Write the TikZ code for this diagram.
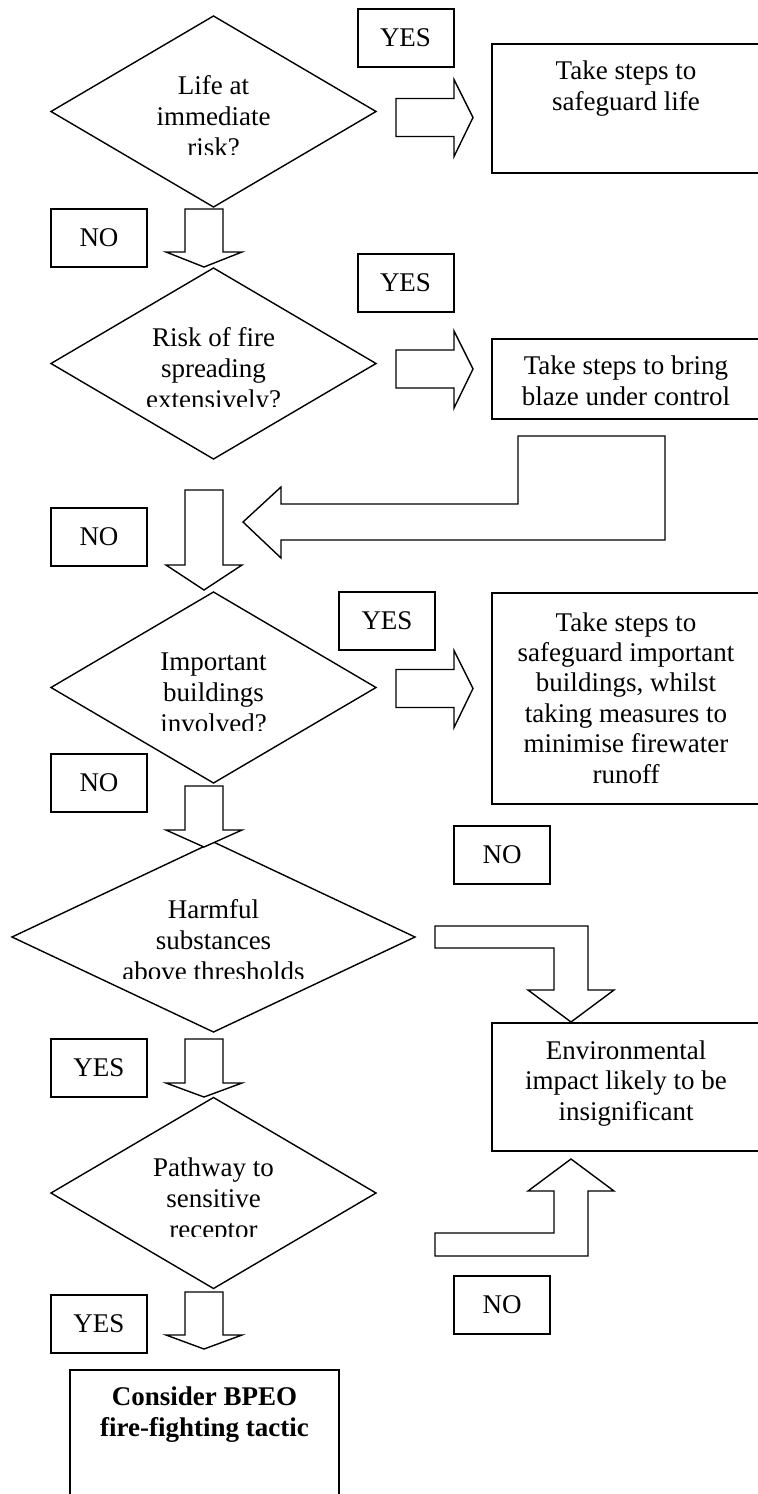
\documentclass[tikz,border=0pt]{standalone}
\usepackage{fontspec}
\setmainfont{Liberation Serif}
\usetikzlibrary{shapes.geometric}
\newcommand{\RArr}[1]{%
  \draw[blk] (396,#1-19) -- (454,#1-19) -- (454,#1-38) -- (473,#1) -- (454,#1+39) -- (454,#1+19) -- (396,#1+19) -- cycle;}
\newcommand{\DArr}[3]{%
  \draw[blk] (185,#1) -- (223,#1) -- (223,#2) -- (242,#2) -- (204,#3) -- (166,#2) -- (185,#2) -- cycle;}
\tikzset{
  blk/.style={draw=black, line width=0.7pt, line join=miter, fill=white},
  dia/.style={draw=black, line width=0.7pt, shape=diamond, inner sep=0pt, outer sep=0pt},
  lbox/.style={draw=black, line width=1pt, minimum width=48pt, minimum height=29pt, inner sep=0pt,
    font=\fontsize{13.5}{15.5}\selectfont},
  bigbox/.style={draw=black, line width=1pt, inner sep=0pt},
  txt/.style={align=center, inner sep=0pt, anchor=base, font=\fontsize{13.5}{15.5}\selectfont},
  btxt/.style={align=center, inner sep=0pt, anchor=base, font=\fontsize{13.5}{15.2}\selectfont},
}
\begin{document}
\begin{tikzpicture}[x=0.5pt, y=-0.5pt]
\useasboundingbox (0,0) rectangle (757,1494);
% ---- decisions
\node[dia, minimum width=162.5pt, minimum height=95.5pt] (d1) at (213.5,111.5) {};
\node[dia, minimum width=162.5pt, minimum height=95.5pt] (d2) at (213.5,363.5) {};
\node[dia, minimum width=162.5pt, minimum height=95.5pt] (d3) at (213.5,687.5) {};
\node[dia, minimum width=201.5pt, minimum height=95pt] (d4) at (213.5,937) {};
\node[dia, minimum width=162.5pt, minimum height=95.5pt] (d5) at (213.5,1193) {};
\begin{scope}
\clip (100,30) rectangle (330,154);
\node[txt] (t1) at (213.5,156) {Life at\\immediate\\risk?};
\end{scope}
\begin{scope}
\clip (100,280) rectangle (330,406);
\node[txt] (t2) at (213.5,408) {Risk of fire\\spreading\\extensively?};
\end{scope}
\begin{scope}
\clip (100,600) rectangle (330,730);
\node[txt] (t3) at (213.5,732) {Important\\buildings\\involved?};
\end{scope}
\begin{scope}
\clip (60,860) rectangle (370,978.5);
\node[txt] (t4) at (213.5,980.5) {Harmful\\substances\\above thresholds};
\end{scope}
\begin{scope}
\clip (100,1110) rectangle (330,1236.5);
\node[txt] (t5) at (213.5,1238.5) {Pathway to\\sensitive\\receptor};
\end{scope}
% ---- YES / NO labels
\node[lbox] (yes1) at (405.5,37.5) {YES};
\node[lbox] (no1) at (99,238) {NO};
\node[lbox] (yes2) at (405.5,283) {YES};
\node[lbox] (no2) at (99,537) {NO};
\node[lbox] (yes3) at (387,620.5) {YES};
\node[lbox] (no3) at (99,782.5) {NO};
\node[lbox] (no4) at (502,854.5) {NO};
\node[lbox] (yes4) at (99,1068) {YES};
\node[lbox] (no5) at (502,1305) {NO};
\node[lbox] (yes5) at (99,1324) {YES};
% ---- action boxes
\node[bigbox, minimum width=134pt, minimum height=64.5pt] (r1) at (626,108.5) {};
\node[btxt] (a1) at (626,110) {Take steps to\\safeguard life};
\node[bigbox, minimum width=134pt, minimum height=40pt] (r2) at (626,379) {};
\node[btxt] (a2) at (626,405) {Take steps to bring\\blaze under control};
\node[bigbox, minimum width=134pt, minimum height=105.5pt] (r3) at (626,698.5) {};
\node[btxt] (a3) at (626,783) {Take steps to\\safeguard important\\buildings, whilst\\taking measures to\\minimise firewater\\runoff};
\node[bigbox, minimum width=134pt, minimum height=64pt] (r4) at (626,1087) {};
\node[btxt] (a4) at (626,1120) {Environmental\\impact likely to be\\insignificant};
\node[bigbox, minimum width=134.5pt, minimum height=75pt] (r5) at (204.5,1445) {};
\node[btxt, font=\fontsize{13.5}{15.2}\selectfont\bfseries] (a5) at (204.5,1436) {Consider BPEO\\fire-fighting tactic};
% ---- block arrows
\RArr{117.5}
\RArr{369}
\RArr{688.5}
\DArr{209}{252}{267}
\DArr{490}{565}{590}
\DArr{786}{830}{847}
\DArr{1039}{1083}{1097}
\DArr{1292}{1335}{1349}
\draw[blk] (518,436) -- (665,436) -- (665,540) -- (281,540) -- (281,558) -- (243,522) -- (281,487) -- (281,504) -- (518,504) -- cycle;
\draw[blk] (435,926) -- (588,926) -- (588,990) -- (614,990) -- (571,1022) -- (528,990) -- (554,990) -- (554,948) -- (435,948) -- cycle;
\draw[blk] (435,1233) -- (554,1233) -- (554,1191) -- (528,1191) -- (571,1159) -- (614,1191) -- (588,1191) -- (588,1256) -- (435,1256) -- cycle;
\end{tikzpicture}
\end{document}
